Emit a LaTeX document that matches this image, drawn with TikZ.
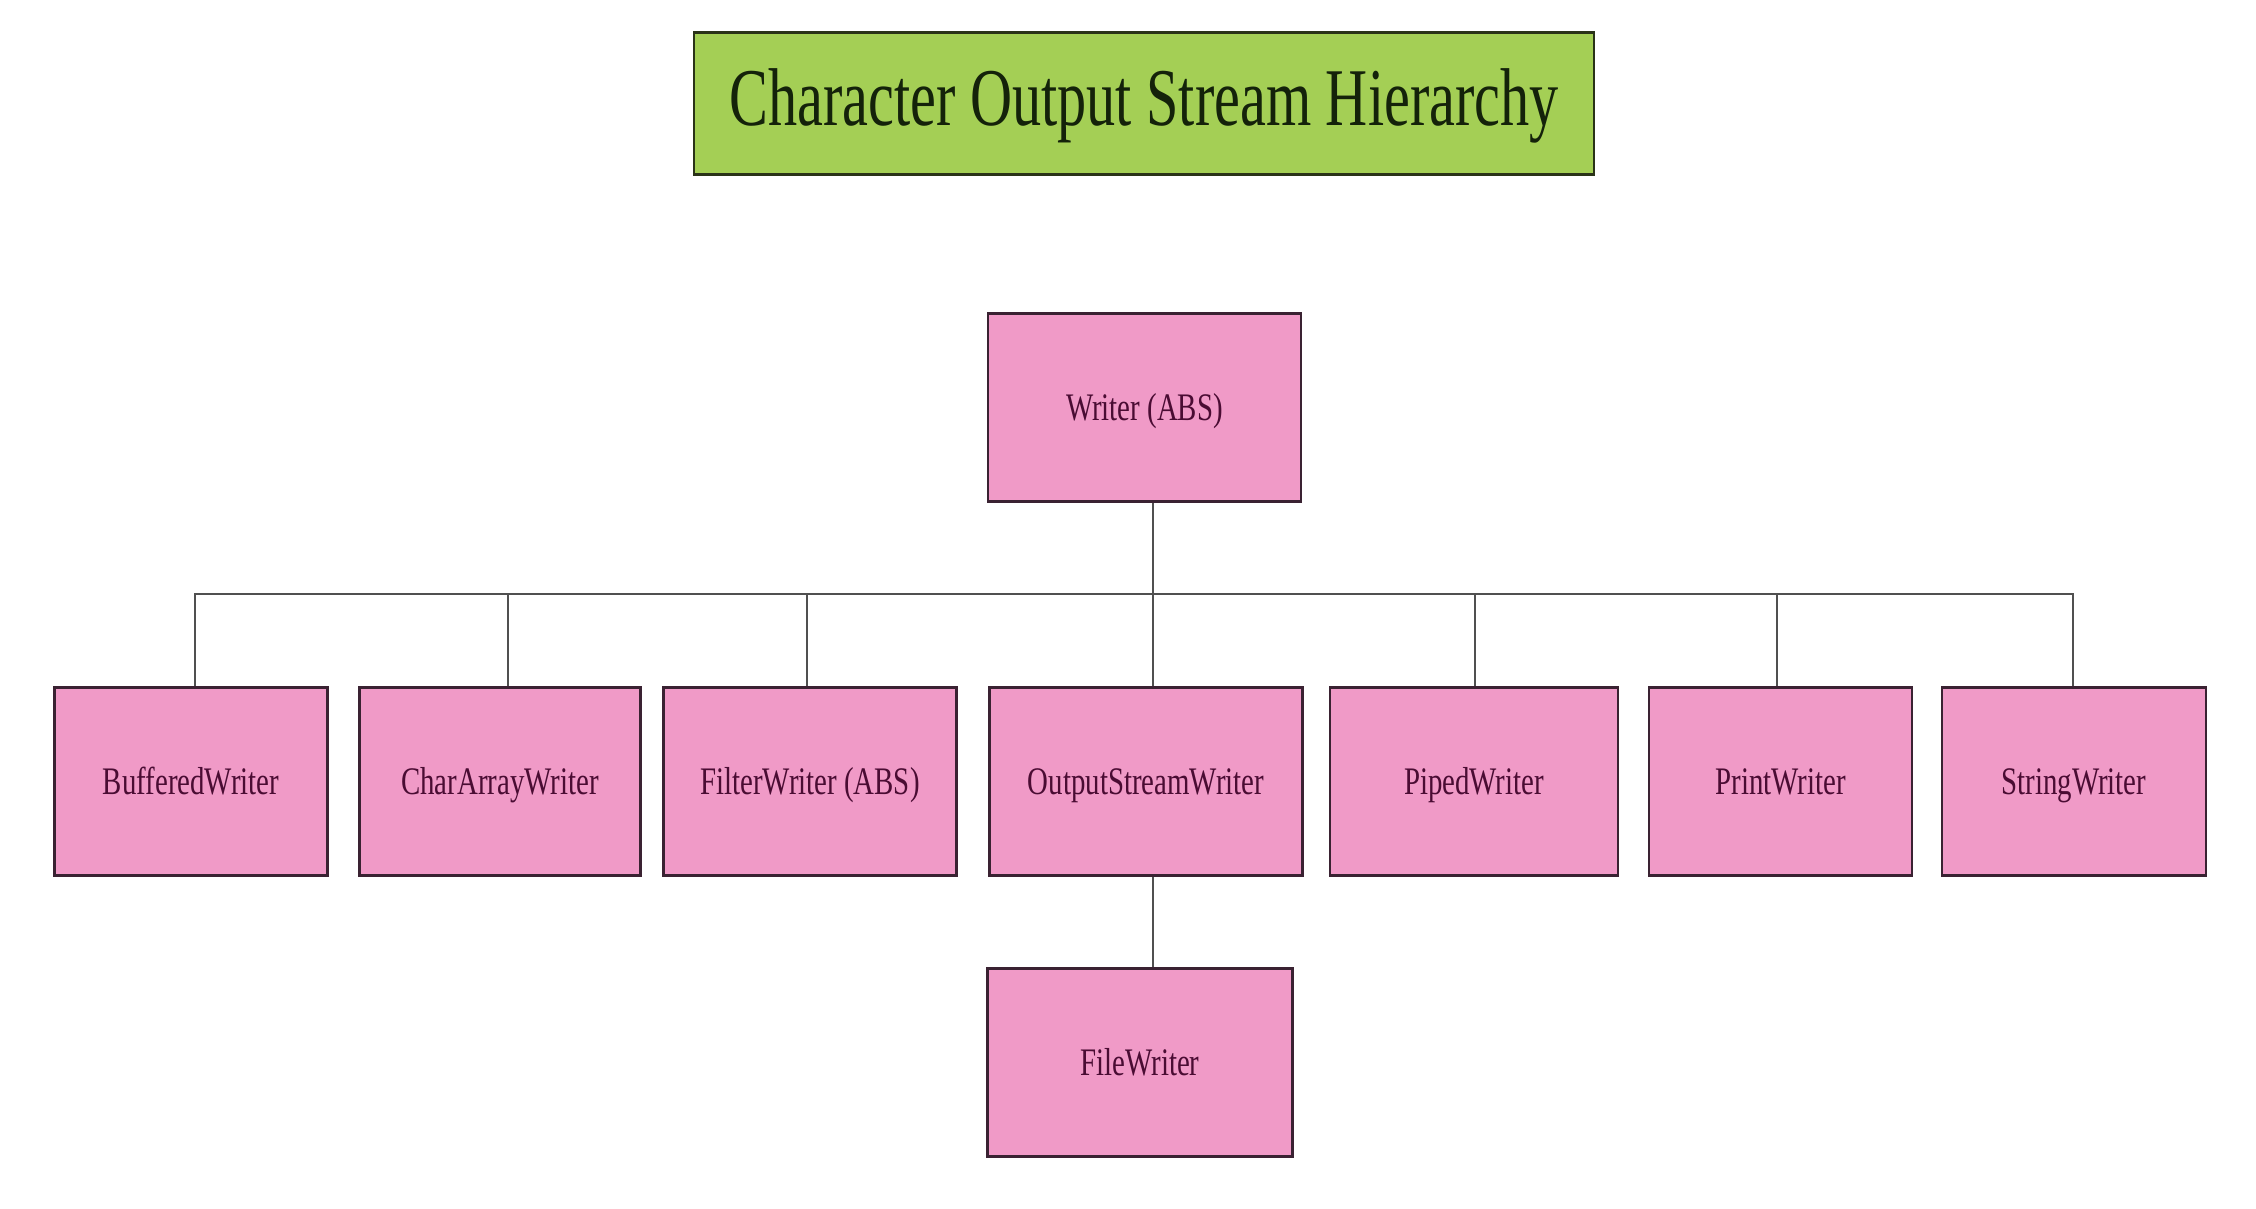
\documentclass[tikz,border=0pt]{standalone}
\usepackage{fontspec}
\setmainfont{Liberation Serif}
\usepackage{graphicx}
\definecolor{boxpink}{HTML}{F09AC7}
\definecolor{boxline}{HTML}{3A2232}
\definecolor{titlegreen}{HTML}{A4CF55}
\definecolor{titleline}{HTML}{2A3318}
\definecolor{labeltext}{HTML}{4A0C33}
\definecolor{titletext}{HTML}{14220A}
\definecolor{linkgray}{HTML}{505050}
\begin{document}
\begin{tikzpicture}[x=1pt,y=-1pt,
  box/.style={draw=boxline, line width=2.6pt, fill=boxpink, minimum height=188pt,
    inner sep=0pt, text=labeltext, text height=26pt, text depth=0pt,
    font=\fontsize{39}{44}\selectfont},
  titlebox/.style={draw=titleline, line width=2.6pt, fill=titlegreen, minimum width=900pt,
    minimum height=142pt, inner sep=0pt, text=titletext, text height=56pt, text depth=12pt,
    font=\fontsize{82}{90}\selectfont},
  link/.style={draw=linkgray, line width=2.4pt}]
\useasboundingbox[fill=white] (0,0) rectangle (2256,1208);
\newcommand{\lbl}[1]{\scalebox{0.74}[1]{#1}}

\node[titlebox] (title) at (1144,103.5) {\scalebox{0.71}[1]{Character Output Stream Hierarchy}};

\node[box, minimum width=313pt] (writer) at (1144.5,407.5) {\lbl{Writer (ABS)}};

\node[box, minimum width=273pt] (b1) at (191,781.5) {\lbl{BufferedWriter}};
\node[box, minimum width=281pt] (b2) at (500,781.5) {\lbl{CharArrayWriter}};
\node[box, minimum width=293pt] (b3) at (810,781.5) {\lbl{FilterWriter (ABS)}};
\node[box, minimum width=313pt] (b4) at (1146,781.5) {\lbl{OutputStreamWriter}};
\node[box, minimum width=288pt] (b5) at (1474,781.5) {\lbl{PipedWriter}};
\node[box, minimum width=263pt] (b6) at (1780.5,781.5) {\lbl{PrintWriter}};
\node[box, minimum width=264pt] (b7) at (2074,781.5) {\lbl{StringWriter}};

\node[box, minimum width=305pt] (file) at (1140,1062.5) {\lbl{FileWriter}};

\coordinate (bus) at (1153,594);

\draw[link] ([xshift=8.5pt]writer.south) -- ([xshift=7pt]b4.north);
\draw[link] ([xshift=4pt]b1.north) |- (bus);
\draw[link] ([xshift=8pt]b2.north) |- (bus);
\draw[link] ([xshift=-3pt]b3.north) |- (bus);
\draw[link] ([xshift=1pt]b5.north) |- (bus);
\draw[link] ([xshift=-3.5pt]b6.north) |- (bus);
\draw[link] ([xshift=-1pt]b7.north) |- (bus);
\draw[link] ([xshift=7pt]b4.south) -- ([xshift=13pt]file.north);
\end{tikzpicture}
\end{document}
